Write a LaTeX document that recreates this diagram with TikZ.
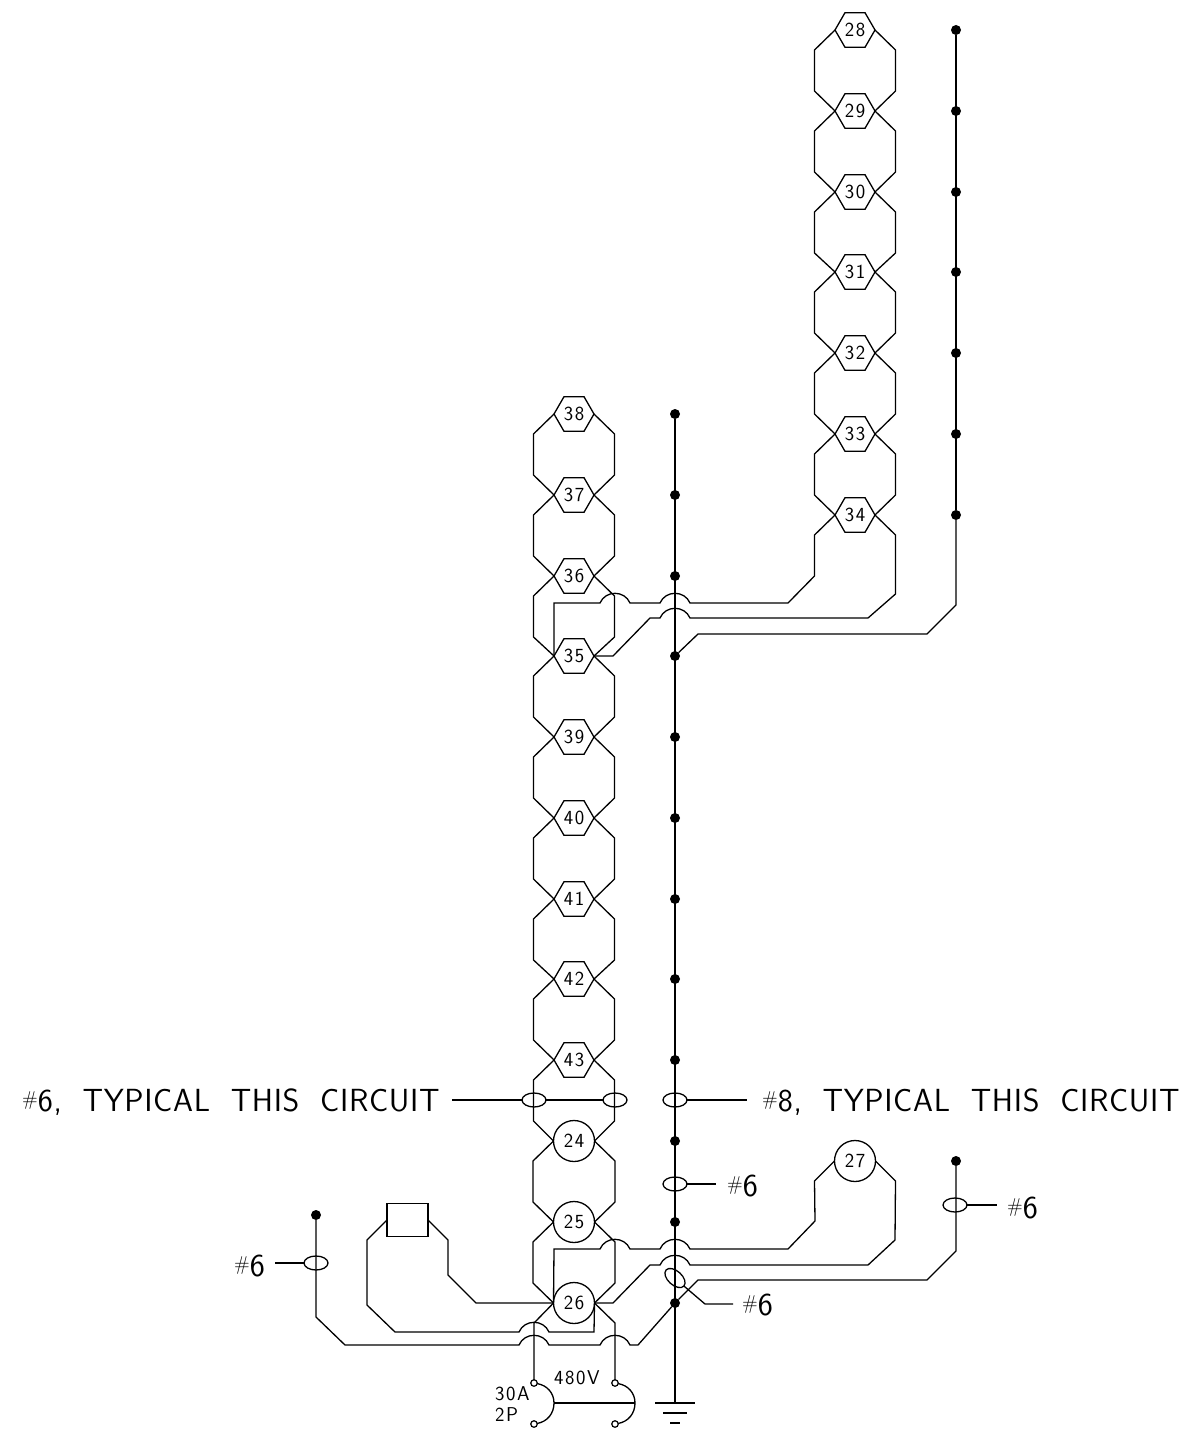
\documentclass[tikz,border=0pt]{standalone}
\usepackage{fontspec}
\usetikzlibrary{shapes.geometric}
\newfontfamily\cadbig[LetterSpace=2,WordSpace=1.95]{Latin Modern Sans}
\newfontfamily\cadsmall[LetterSpace=8]{Latin Modern Sans}
\tikzset{
	wire/.style={line width=1.3pt,line join=miter},
	hop/.style={out=113,in=67,looseness=1.2},
	hexnode/.style={draw,line width=1.3pt,regular polygon,regular polygon sides=6,minimum size=40pt,inner sep=0pt,outer sep=0pt,font=\cadsmall\fontsize{20}{20}\selectfont},
	cirnode/.style={draw,line width=1.3pt,circle,minimum size=41pt,inner sep=0pt,outer sep=0pt,font=\cadsmall\fontsize{20}{20}\selectfont},
	busdot/.style={circle,fill=black,minimum size=10pt,inner sep=0pt,outer sep=0pt},
	termdot/.style={draw,line width=1.2pt,circle,fill=white,minimum size=6.5pt,inner sep=0pt,outer sep=0pt},
	ring/.style={draw,line width=1.3pt,ellipse,minimum width=24pt,minimum height=14pt,inner sep=0pt,outer sep=0pt},
	biglabel/.style={anchor=west,inner sep=0pt,font=\cadbig\fontsize{32}{32}\selectfont},
	smlabel/.style={anchor=west,inner sep=0pt,font=\cadsmall\fontsize{20}{20}\selectfont}
}
\newcommand{\gaugemark}{{\fontsize{20}{20}\selectfont\raisebox{6pt}{\#}}}
\begin{document}
\begin{tikzpicture}[x=1pt,y=-1pt]
	\useasboundingbox (0,0) rectangle (1186,1429);

	\foreach \num/\ypos in {28/30,29/111,30/192,31/272,32/353,33/434,34/515}
		\node [hexnode] (n\num) at (855,\ypos) {\num};
	\foreach \num/\ypos in {38/414,37/495,36/576,35/656,39/737,40/818,41/899,42/979,43/1060}
		\node [hexnode] (n\num) at (574,\ypos) {\num};
	\foreach \num/\ypos in {24/1141,25/1222,26/1303}
		\node [cirnode] (n\num) at (574,\ypos) {\num};
	\node [cirnode] (n27) at (855,1161) {27};

	\foreach \nodea/\nodeb in {28/29,29/30,30/31,31/32,32/33,33/34,38/37,37/36,36/35,35/39,39/40,40/41,41/42,42/43,43/24,24/25,25/26}{
		\draw [wire] (n\nodea.west) -- ++(-20.5,20) -- ++(0,41) -- (n\nodeb.west);
		\draw [wire] (n\nodea.east) -- ++(20.5,20) -- ++(0,41) -- (n\nodeb.east);
	}

	\foreach \ypos [count=\i] in {414,495,576,656,737,818,899,979,1060,1141,1222,1303}
		\node [busdot] (a\i) at (675,\ypos) {};
	\foreach \ypos [count=\i] in {30,111,192,272,353,434,515}
		\node [busdot] (b\i) at (956,\ypos) {};
	\node [busdot] (c1) at (956,1161) {};
	\node [busdot] (d1) at (316,1215) {};

	\coordinate (gnd) at (675,1403);
	\draw [wire] (a1) -- (gnd);
	\draw [wire] (b1) -- (b7);

	\draw [wire] (n34.west) -- ++(-20.5,20) -- (814.5,576) -- (788,603) -- (690,603) to [hop] (660,603) -- (630,603) to [hop] (600,603) -- (554,603) -- (n35.west);
	\draw [wire] (n34.east) -- ++(20.5,20) -- (895.5,594) -- (868,618) -- (690,618) to [hop] (660,618) -- (650,618) -- (613,656) -- (n35.east);
	\draw [wire] (b7) -- (956,605) -- (927,634) -- (698,634) -- (a4);

	\draw [wire] (n27.west) -- ++(-20,20) -- (815,1221) -- (788,1249) -- (690,1249) to [hop] (660,1249) -- (630,1249) to [hop] (600,1249) -- (554,1249) -- (n26.west);
	\draw [wire] (n27.east) -- ++(20,20) -- (895,1240) -- (868,1265) -- (690,1265) to [hop] (660,1265) -- (650,1265) -- (613,1303) -- (n26.east);
	\draw [wire] (c1) -- (956,1251) -- (927,1280) -- (698,1280) -- (a12);

	\node [draw,line width=1.3pt,minimum width=41pt,minimum height=33pt,inner sep=0pt,outer sep=0pt] (box) at (407.5,1220) {};
	\draw [wire] (box.east) -- (448,1240) -- (448,1275) -- (476,1303) -- (n26.west);
	\draw [wire] (n26.east) -- (594,1332) -- (549,1332) to [hop] (519,1332) -- (395,1332) -- (367,1305) -- (367,1240) -- (box.west);
	\draw [wire] (a12) -- (638,1345) -- (630,1345) to [hop] (600,1345) -- (549,1345) to [hop] (519,1345) -- (345,1345) -- (316,1317) -- (d1);

	\node [termdot] (t1) at (534,1383) {};
	\node [termdot] (t2) at (534,1424) {};
	\node [termdot] (t3) at (615,1383) {};
	\node [termdot] (t4) at (615,1424) {};
	\coordinate (s1) at (554,1403);
	\coordinate (s2) at (635,1403);
	\draw [wire] (n26.west) -- (534,1323) -- (t1);
	\draw [wire] (n26.east) -- (615,1323) -- (t3);
	\draw [wire] (t1) to [out=-10, in=90] (s1) to [out=-90, in=10] (t2);
	\draw [wire] (t3) to [out=-10, in=90] (s2) to [out=-90, in=10] (t4);
	\draw [wire] (s1) -- (s2);

	\draw [wire] (655,1403) -- (695,1403);
	\draw [wire] (663,1413) -- (687,1413);
	\draw [wire] (670,1423) -- (680,1423);

	\node [smlabel] (lblv) at (554,1378) {480V};
	\node [smlabel] (lbla) at (495,1394) {30A};
	\node [smlabel] (lblp) at (495,1415) {2P};

	\node [ring] (r1) at (534,1100) {};
	\node [ring] (r2) at (615,1100) {};
	\node [ring] (r3) at (675,1100) {};
	\node [biglabel] (typ6) at (22,1102) {\gaugemark 6, TYPICAL THIS CIRCUIT};
	\node [biglabel] (typ8) at (762,1102) {\gaugemark 8, TYPICAL THIS CIRCUIT};
	\coordinate (e1) at (452,1100);
	\coordinate (e2) at (747,1100);
	\draw [wire] (e1) -- (r1);
	\draw [wire] (r1) -- (r2);
	\draw [wire] (r3) -- (e2);

	\node [ring] (r4) at (675,1184) {};
	\node [biglabel] (lab4) at (727,1186) {\gaugemark 6};
	\coordinate (e4) at (716,1184);
	\draw [wire] (r4) -- (e4);

	\node [ring] (r5) at (955,1205) {};
	\node [biglabel] (lab5) at (1007,1208) {\gaugemark 6};
	\coordinate (e5) at (997,1205);
	\draw [wire] (r5) -- (e5);

	\node [ring] (r6) at (316,1263) {};
	\node [biglabel] (lab6) at (234,1266) {\gaugemark 6};
	\coordinate (e6) at (275,1263);
	\draw [wire] (r6) -- (e6);

	\node [ring,rotate=-42] (r7) at (675,1278) {};
	\node [biglabel] (lab7) at (742,1305) {\gaugemark 6};
	\draw [wire] (r7.east) -- (705,1304) -- (733,1304);
\end{tikzpicture}
\end{document}
